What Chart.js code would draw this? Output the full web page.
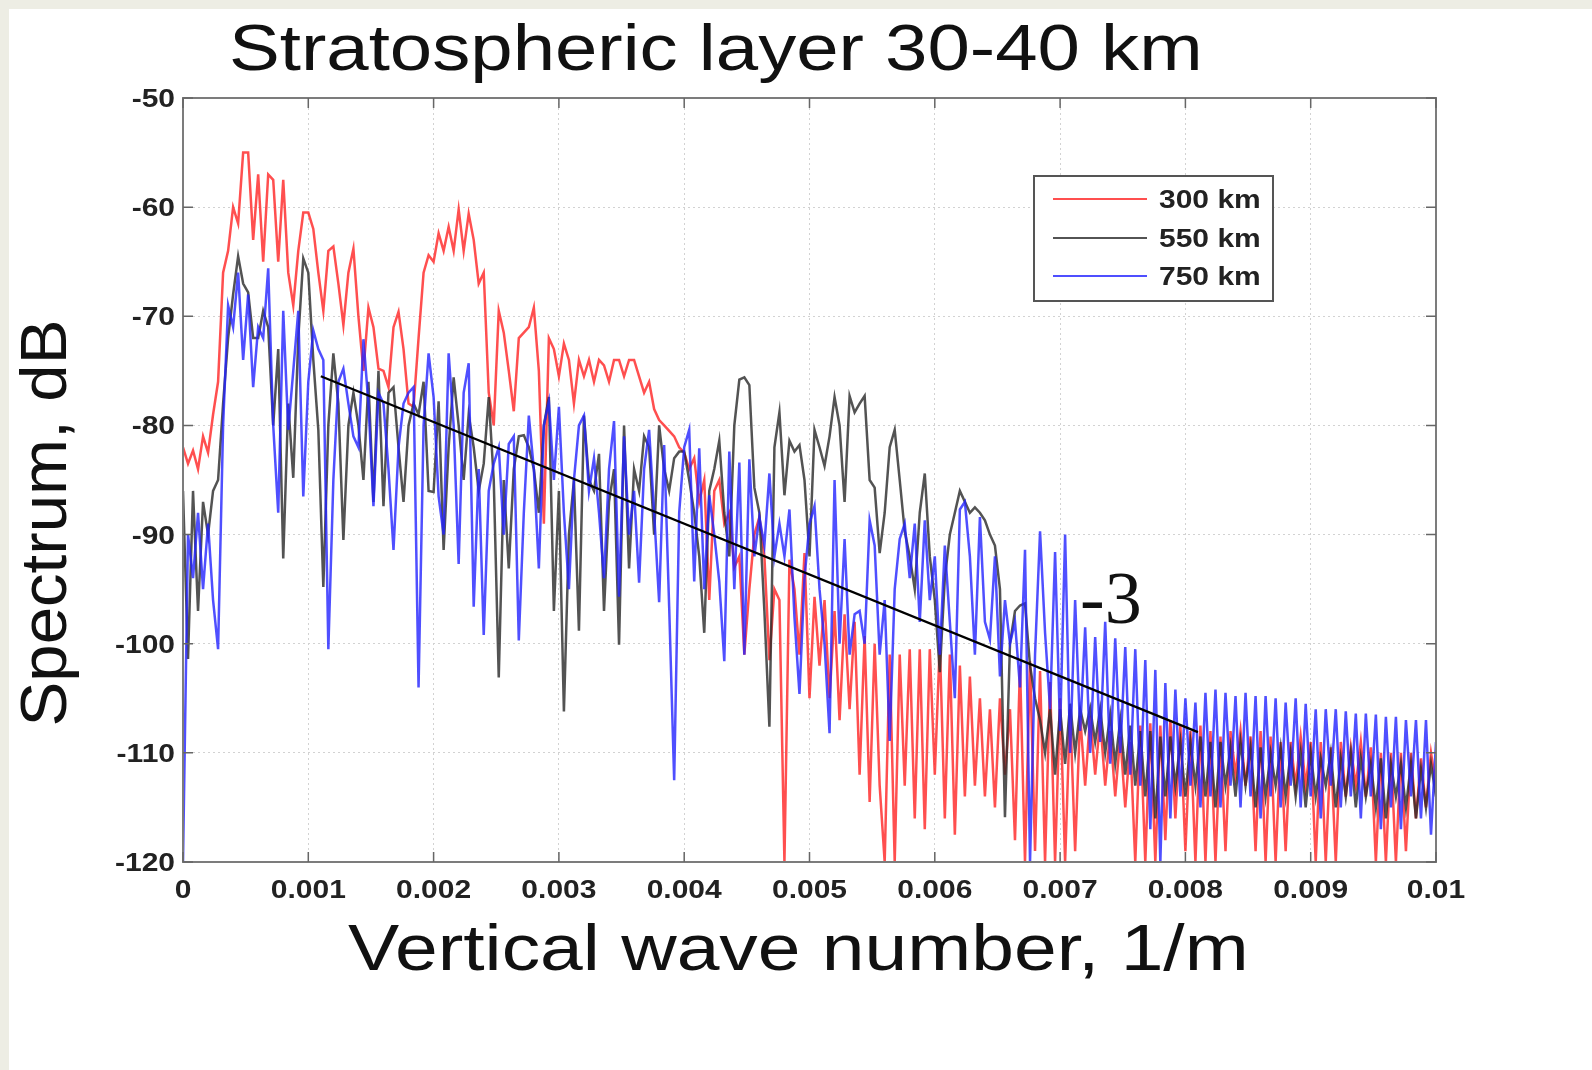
<!DOCTYPE html>
<html>
<head>
<meta charset="utf-8">
<title>Stratospheric layer 30-40 km</title>
<script src="https://cdn.jsdelivr.net/npm/chart.js@4.4.1/dist/chart.umd.min.js"></script>
<style>
  html, body { margin: 0; padding: 0; background: #fff; }
</style>
</head>
<body>
<canvas id="chart" width="1592" height="1070"></canvas>
<script>
// spectra sampled every 0.00004 1/m, from 0 to 0.01 (251 samples each), dB
const waveStep = 0.00004;

const spec300 = [
  -82, -83.5, -82.3, -84, -81, -82.5, -79, -76, -66, -64,
  -60, -61.5, -55, -55, -63, -57, -65, -57, -57.5, -65,
  -57.5, -66, -69, -64, -60.5, -60.5, -62, -66, -69.5, -64,
  -63.6, -67, -70.8, -66, -63.8, -70, -75, -69.2, -71, -74.8,
  -75, -76.5, -71, -69.6, -73, -78, -78.3, -72, -66, -64.4,
  -65, -62.4, -64, -61.8, -64, -60.2, -64, -60.6, -63, -67,
  -66, -77, -80, -69.5, -71.5, -75, -78.7, -72, -71.5, -71,
  -69.2, -75, -89, -72, -73, -75.5, -72.5, -74, -78, -74,
  -75.5, -74, -76, -74, -74.5, -76, -74, -74, -75.5, -74,
  -74, -75.5, -77, -76, -78.5, -79.5, -80, -80.5, -81, -82,
  -82.5, -84, -83, -87, -85, -96, -86, -85, -89, -88,
  -93, -92, -101, -95, -90, -88.4, -92, -101.5, -95, -96,
  -120, -92.3, -95, -101, -91.7, -105, -95.7, -102, -96, -105,
  -97, -107, -97.3, -106, -98, -112, -99.3, -114.5, -100, -113,
  -120, -101, -120, -101, -113, -100.5, -116, -100.5, -117, -100.5,
  -112, -100, -116, -101, -117.5, -102, -114, -103, -113, -105,
  -114, -106, -115, -105, -112, -106, -118, -102, -120, -101.6,
  -119, -102.5, -120, -103.5, -120, -105, -120, -106, -119, -106.6,
  -113, -106.6, -112, -107, -113, -108, -114, -108.5, -115, -109,
  -120, -107.5, -120, -107.3, -120, -107.5, -118, -107, -116, -107.5,
  -119, -108, -120, -107.5, -120, -108, -120, -108.5, -119, -108,
  -112, -108, -113, -108.5, -119, -108, -120, -108.5, -120, -109,
  -119, -109, -113, -108.5, -113, -109, -120, -109, -120, -109.5,
  -120, -109, -114, -109.5, -113, -109, -114, -109.5, -120, -110,
  -120, -110, -120, -110, -119, -110, -116, -110.5, -115, -110,
  -113
];

const spec550 = [
  -86, -101.4, -86, -97, -87, -90, -86, -85, -78, -72,
  -68, -64.5, -67, -67.8, -72, -72, -69.5, -71, -80, -73,
  -92.2, -78, -84.8, -72, -64.7, -66, -74, -80.4, -94.8, -80,
  -73.4, -78, -90.5, -80, -77, -80, -85, -76, -87, -75,
  -87.4, -77, -76.5, -82, -87, -80, -78, -79, -76, -86,
  -86.1, -77.8, -91.4, -82, -75.6, -80, -85, -79, -82, -86,
  -83.5, -77.4, -85, -103.1, -85, -93.1, -84, -81, -80.9, -82,
  -84, -88, -80, -77.4, -97, -86, -106.2, -90, -85, -98.8,
  -79.1, -85, -86, -82.6, -97, -87, -84, -100.1, -80, -93.1,
  -84, -86, -81, -82, -90, -80, -84, -86, -83, -82.4,
  -82.4, -85, -88, -92, -99, -86, -84, -81.4, -88, -92,
  -80, -75.8, -75.6, -76.3, -85.7, -88, -97, -107.6, -82, -78.8,
  -86.4, -81.4, -82.4, -81.8, -85, -92, -80.4, -82, -83.7, -81,
  -77.4, -80, -87, -77.3, -78.8, -78, -77.3, -85, -85.7, -91.7,
  -88, -82, -80.4, -85, -89.7, -92, -95, -88, -84.4, -92,
  -96, -102.6, -94, -90, -88, -86, -87, -88, -87.5, -88,
  -88.7, -90, -91, -95, -115.9, -100, -97, -96.5, -96.3, -102,
  -105, -107, -110, -106, -112, -106, -111, -105.5, -110, -106,
  -108, -105.9, -109, -106, -110, -106.5, -111, -107, -112, -107.5,
  -113, -108, -114, -108, -116, -108.5, -114, -108.5, -113, -109,
  -114, -109, -113, -108.5, -114, -109, -115, -109, -113, -109.5,
  -114, -109, -113, -109.5, -115, -109.5, -114, -110, -113, -109.5,
  -114, -110, -114, -110, -115, -110, -114, -110.5, -113, -110,
  -115, -110.5, -114, -110, -115, -110.5, -114, -111, -115, -110.5,
  -116, -111, -114, -111, -115, -111, -116, -111.5, -115, -111,
  -114
];

const spec750 = [
  -120, -90, -94, -88, -95, -89, -96, -100.5, -80, -69,
  -71, -66, -74, -68, -76.5, -71, -72, -65.6, -80, -88,
  -69.5, -80.4, -75, -69.5, -86.5, -76, -71.3, -73, -74, -100.5,
  -85, -76, -74.8, -78, -81, -82, -72.1, -78, -87.4, -77,
  -78, -84, -91.4, -82, -78, -77, -76.5, -104, -80, -73.4,
  -77.4, -86.5, -90, -73.4, -80, -92.7, -77, -74.3, -96.6, -84,
  -99.2, -86, -83.5, -82, -90, -81.7, -81, -99.7, -88, -79.1,
  -84, -93.1, -80, -77.8, -85, -78.3, -88, -95, -85, -80,
  -79.1, -86, -83, -88, -94, -84, -79.6, -95.7, -81, -90,
  -86, -94.4, -84, -80.4, -88, -96.2, -81.8, -96.6, -112.5, -88,
  -82, -80.4, -94.3, -82.1, -95, -86.4, -90, -94.3, -101.6, -82.4,
  -95, -83.4, -101, -83.1, -92, -88.4, -91, -84.4, -92, -89,
  -92, -87.7, -97.6, -104.6, -94, -89, -87.4, -95, -100, -108.2,
  -85, -100, -90.4, -101, -97.3, -97, -100, -88.7, -91, -101,
  -96, -108.9, -95, -90.4, -89, -94, -89, -98, -88.7, -96,
  -92, -101, -91, -98, -105, -87.7, -87, -92, -101, -88.4,
  -98, -99.6, -92, -103, -96, -100, -98, -104, -91.4, -120,
  -101, -89.7, -99, -106, -91.6, -108, -90, -110, -96, -108,
  -98.5, -110, -99.4, -109, -98, -111, -99.5, -110, -100.3, -112,
  -100.5, -113, -101.5, -117, -102.4, -120, -103.6, -116, -104.2, -114,
  -105, -113, -105.4, -115, -104.5, -114, -104.2, -115, -104.5, -113,
  -104.8, -115, -104.5, -114, -104.8, -116, -104.8, -114, -105, -115,
  -105.4, -113, -105, -115, -105.5, -114, -106, -116, -106, -113,
  -106, -115, -106.2, -114, -106.4, -116, -106.4, -114, -106.5, -117,
  -106.7, -115, -106.7, -117, -107, -114, -107, -116, -107, -117.5,
  -109
];

// -3 slope guide line
const fitK = [0.0011, 0.0081];
const fitDb = [-75.5, -108.1];

const seriesNames = ['300 km', '550 km', '750 km'];
const xTickValues = [0, 0.001, 0.002, 0.003, 0.004, 0.005, 0.006, 0.007, 0.008, 0.009, 0.01];
const xTickLabels = ['0', '0.001', '0.002', '0.003', '0.004', '0.005', '0.006', '0.007', '0.008', '0.009', '0.01'];
const yTickValues = [-120, -110, -100, -90, -80, -70, -60, -50];
const yTickLabels = ['-120', '-110', '-100', '-90', '-80', '-70', '-60', '-50'];

const lineColors = ['rgba(255,35,35,0.8)', 'rgba(40,40,40,0.8)', 'rgba(35,35,255,0.8)'];

const toPoints = arr => arr.map((v, i) => ({ x: i * waveStep, y: v }));

function stretchText(ctx, text, x, y, sx, align) {
  ctx.save();
  ctx.translate(x, y);
  ctx.scale(sx, 1);
  ctx.textAlign = align;
  ctx.fillText(text, 0, 0);
  ctx.restore();
}

const decor = {
  id: 'decor',
  beforeDraw(chart) {
    const ctx = chart.ctx;
    ctx.save();
    ctx.fillStyle = '#edede4';
    ctx.fillRect(0, 0, chart.width, chart.height);
    ctx.fillStyle = '#ffffff';
    ctx.fillRect(9, 9, chart.width - 9, chart.height - 9);
    ctx.restore();
  },
  afterDraw(chart) {
    const ctx = chart.ctx;
    const a = chart.chartArea;
    const xs = chart.scales.x, ys = chart.scales.y;
    ctx.save();

    // box + inward ticks
    ctx.strokeStyle = '#7c7c7c';
    ctx.lineWidth = 2;
    ctx.strokeRect(a.left, a.top, a.right - a.left, a.bottom - a.top);
    ctx.lineWidth = 1.5;
    ctx.strokeStyle = '#666';
    ctx.beginPath();
    xTickValues.forEach(v => {
      const px = xs.getPixelForValue(v);
      ctx.moveTo(px, a.bottom); ctx.lineTo(px, a.bottom - 10);
      ctx.moveTo(px, a.top); ctx.lineTo(px, a.top + 10);
    });
    yTickValues.forEach(v => {
      const py = ys.getPixelForValue(v);
      ctx.moveTo(a.left, py); ctx.lineTo(a.left + 10, py);
      ctx.moveTo(a.right, py); ctx.lineTo(a.right - 10, py);
    });
    ctx.stroke();

    // tick labels
    ctx.fillStyle = '#222';
    ctx.font = 'bold 25px "Liberation Sans", Arial, sans-serif';
    ctx.textBaseline = 'alphabetic';
    xTickValues.forEach((v, i) => {
      stretchText(ctx, xTickLabels[i], xs.getPixelForValue(v), a.bottom + 36, 1.2, 'center');
    });
    yTickValues.forEach((v, i) => {
      stretchText(ctx, yTickLabels[i], a.left - 8, ys.getPixelForValue(v) + 9, 1.2, 'right');
    });

    // titles
    ctx.fillStyle = '#111';
    ctx.font = '64px "Liberation Sans", Arial, sans-serif';
    stretchText(ctx, 'Stratospheric layer 30-40 km', 229, 70, 1.19, 'left');
    stretchText(ctx, 'Vertical wave number, 1/m', 348, 970, 1.2, 'left');
    ctx.save();
    ctx.translate(66, 523);
    ctx.rotate(-Math.PI / 2);
    ctx.scale(1.05, 1);
    ctx.textAlign = 'center';
    ctx.fillText('Spectrum, dB', 0, 0);
    ctx.restore();

    // slope annotation
    ctx.font = '74px "Liberation Serif", "Times New Roman", serif';
    ctx.textAlign = 'left';
    ctx.fillText('-3', 1080, 623);

    // legend
    const lx = 1034, ly = 176, lw = 239, lh = 125;
    ctx.fillStyle = '#fff';
    ctx.fillRect(lx, ly, lw, lh);
    ctx.strokeStyle = '#555';
    ctx.lineWidth = 2;
    ctx.strokeRect(lx, ly, lw, lh);
    const rows = [199, 238, 276];
    ctx.font = 'bold 25px "Liberation Sans", Arial, sans-serif';
    seriesNames.forEach((name, i) => {
      ctx.strokeStyle = lineColors[i];
      ctx.lineWidth = 2;
      ctx.beginPath();
      ctx.moveTo(1053, rows[i]);
      ctx.lineTo(1147, rows[i]);
      ctx.stroke();
      ctx.fillStyle = '#222';
      stretchText(ctx, name, 1159, rows[i] + 9, 1.2, 'left');
    });
    ctx.restore();
  }
};

const gridOpts = { color: '#d2d2d2', lineWidth: 1, drawTicks: false };

new Chart(document.getElementById('chart'), {
  type: 'line',
  data: {
    datasets: [
      {
        label: 'fit',
        data: fitK.map((k, i) => ({ x: k, y: fitDb[i] })),
        borderColor: '#000',
        borderWidth: 2.2,
        pointRadius: 0,
        order: 0
      },
      {
        label: seriesNames[2],
        data: toPoints(spec750),
        borderColor: lineColors[2],
        borderWidth: 2.5,
        pointRadius: 0,
        order: 1
      },
      {
        label: seriesNames[1],
        data: toPoints(spec550),
        borderColor: lineColors[1],
        borderWidth: 2.5,
        pointRadius: 0,
        order: 2
      },
      {
        label: seriesNames[0],
        data: toPoints(spec300),
        borderColor: lineColors[0],
        borderWidth: 2.5,
        pointRadius: 0,
        order: 3
      }
    ]
  },
  options: {
    responsive: false,
    animation: false,
    layout: { padding: { left: 0, top: 98, right: 156, bottom: 0 } },
    plugins: {
      legend: { display: false },
      tooltip: { enabled: false },
      title: { display: false }
    },
    scales: {
      x: {
        type: 'linear',
        min: 0,
        max: 0.01,
        afterBuildTicks: s => { s.ticks = xTickValues.map(v => ({ value: v })); },
        ticks: { display: false },
        grid: gridOpts,
        border: { display: false, dash: [2, 3] },
        afterFit: s => { s.height = 208; }
      },
      y: {
        type: 'linear',
        min: -120,
        max: -50,
        afterBuildTicks: s => { s.ticks = yTickValues.map(v => ({ value: v })); },
        ticks: { display: false },
        grid: gridOpts,
        border: { display: false, dash: [2, 3] },
        afterFit: s => { s.width = 183; }
      }
    }
  },
  plugins: [decor]
});
</script>
</body>
</html>
